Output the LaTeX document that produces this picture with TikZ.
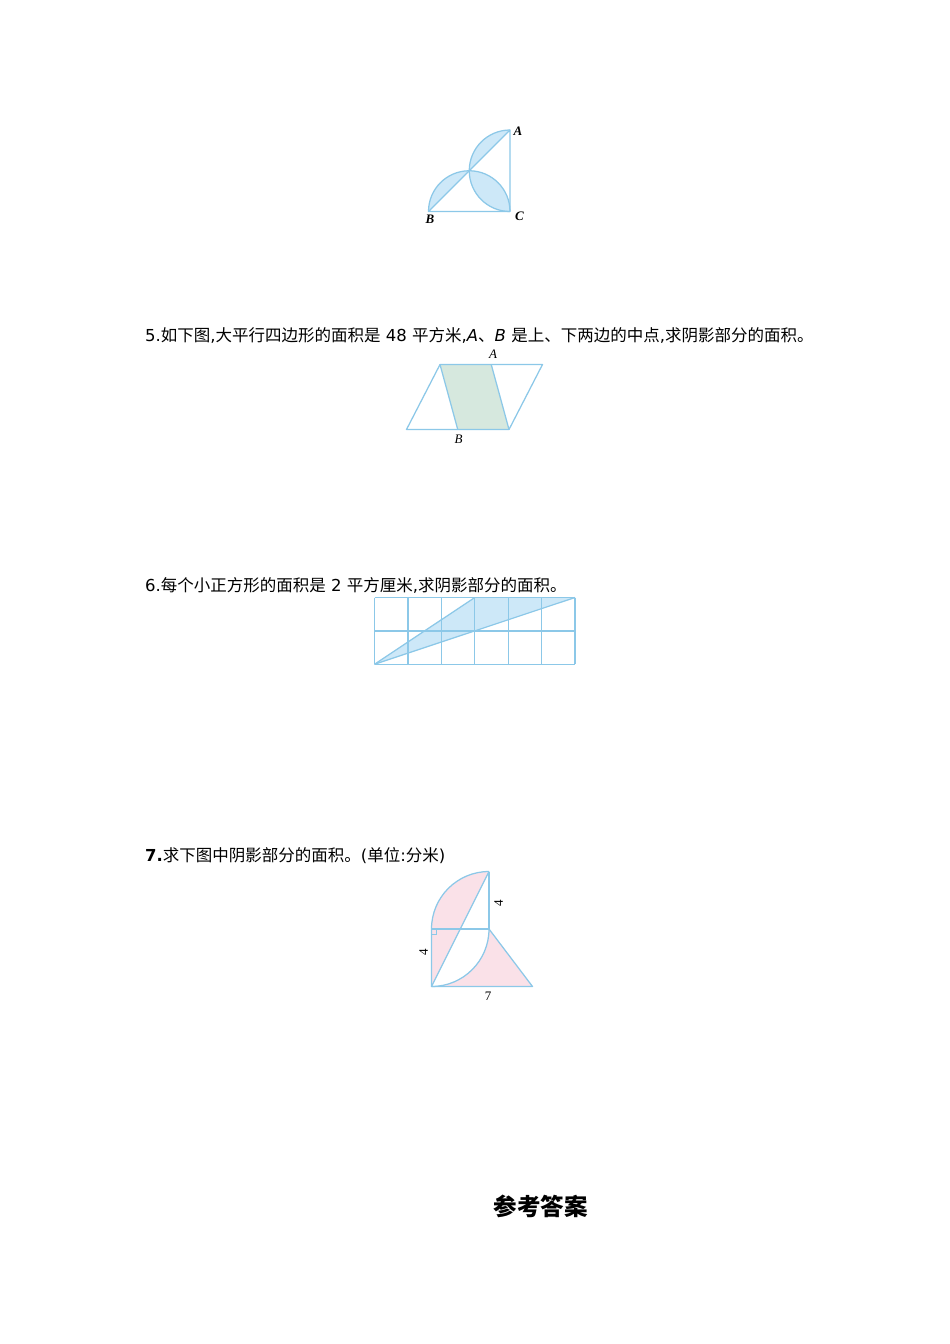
\documentclass[tikz,border=0pt]{standalone}
\usepackage{fontspec}
\setmainfont{DejaVu Sans}
\newfontfamily\cjk{Noto Sans CJK SC}
\newfontfamily\serifl{Liberation Serif}
\definecolor{ln}{HTML}{8CC8E8}
\definecolor{fblue}{HTML}{CDE8F8}
\definecolor{fgreen}{HTML}{D6E8DE}
\definecolor{fpink}{HTML}{FAE1E8}
\begin{document}
\begin{tikzpicture}[x=1pt,y=1pt,
  edge/.style={draw=ln,line width=1.25pt,line join=round},
  qtext/.style={anchor=base west,inner sep=0pt,font=\fontsize{16.5}{20}\selectfont},
  lbl/.style={inner sep=0pt,font=\serifl\fontsize{13}{15}\selectfont},
  lblb/.style={inner sep=0pt,font=\serifl\bfseries\itshape\fontsize{13}{15}\selectfont}]
\fill[white] (0,0) rectangle (950,-1344);
\useasboundingbox (0,0) rectangle (950,-1344);

% ---------- Figure 1 ----------
\coordinate (fB) at (428.5,-211.5);
\coordinate (fC) at (510,-211.5);
\coordinate (fA) at (510,-130);
\coordinate (fM) at (469.25,-170.75);
\fill[fblue] (fB) arc[start angle=180,end angle=90,radius=40.75pt] -- cycle;
\fill[fblue] (fM) arc[start angle=180,end angle=90,radius=40.75pt] -- cycle;
\fill[fblue] (fM) arc[start angle=90,end angle=0,radius=40.75pt]
   arc[start angle=270,end angle=180,radius=40.75pt] -- cycle;
\draw[edge] (fA) -- (fB) -- (fC) -- cycle;
\draw[edge] (fB) arc[start angle=180,end angle=0,radius=40.75pt];
\draw[edge] (fA) arc[start angle=90,end angle=270,radius=40.75pt];
\node[lblb] (tA1) at (518,-131) {A};
\node[lblb] (tB1) at (430,-219) {B};
\node[lblb] (tC1) at (519.5,-216) {C};

% ---------- Question 5 ----------
\node[qtext] (q5) at (145,-341) {5.{\cjk 如下图},{\cjk 大平行四边形的面积是} 48 {\cjk 平方米},\textit{A}{\cjk 、}\textit{B} {\cjk 是上、下两边的中点},{\cjk 求阴影部分的面积。}};

% ---------- Figure 2 ----------
\coordinate (pTL) at (440,-364.5);
\coordinate (pTR) at (542.5,-364.5);
\coordinate (pBL) at (406.5,-429.5);
\coordinate (pBR) at (509,-429.5);
\coordinate (pA) at (491.25,-364.5);
\coordinate (pB) at (457.75,-429.5);
\fill[fgreen] (pTL) -- (pA) -- (pBR) -- (pB) -- cycle;
\draw[edge] (pTL) -- (pTR) -- (pBR) -- (pBL) -- cycle;
\draw[edge] (pTL) -- (pB);
\draw[edge] (pA) -- (pBR);
\node[lbl,font=\serifl\itshape\fontsize{13}{15}\selectfont] (tA2) at (493,-354) {A};
\node[lbl,font=\serifl\itshape\fontsize{13}{15}\selectfont] (tB2) at (458.5,-439) {B};

% ---------- Question 6 ----------
\node[qtext] (q6) at (145,-591) {6.{\cjk 每个小正方形的面积是} 2 {\cjk 平方厘米},{\cjk 求阴影部分的面积。}};

% ---------- Figure 3 ----------
\coordinate (gBL) at (374.5,-664.3);
\coordinate (gTR) at (575,-597.5);
\coordinate (gTM) at (474.75,-597.5);
\fill[fblue] (gBL) -- (gTM) -- (gTR) -- cycle;
\foreach \i in {0,...,6} {
  \draw[edge] (374.5+\i*33.417,-597.5) -- (374.5+\i*33.417,-664.3);
}
\foreach \j in {0,1,2} {
  \draw[edge] (374.5,-597.5-\j*33.4) -- (575,-597.5-\j*33.4);
}
\draw[edge] (gBL) -- (gTM);
\draw[edge] (gBL) -- (gTR);

% ---------- Question 7 ----------
\node[qtext] (q7) at (145,-861) {\textbf{7.}{\cjk 求下图中阴影部分的面积。}({\cjk 单位}:{\cjk 分米})};

% ---------- Figure 4 ----------
\coordinate (hRT) at (489,-871.5);
\coordinate (hRM) at (489,-929);
\coordinate (hLM) at (431.5,-929);
\coordinate (hLB) at (431.5,-986.5);
\coordinate (hTB) at (532.5,-986.5);
\fill[fpink] (hRT) arc[start angle=90,end angle=180,radius=57.5pt] -- (hLB) -- cycle;
\fill[fpink] (hRM) arc[start angle=0,end angle=-90,radius=57.5pt] -- (hTB) -- cycle;
\draw[edge] (hRT) arc[start angle=90,end angle=180,radius=57.5pt];
\draw[edge] (hRM) arc[start angle=0,end angle=-90,radius=57.5pt];
\draw[edge] (hRT) -- (hRM);
\draw[edge] (hLM) -- (hRM);
\draw[edge] (hLM) -- (hLB) -- (hTB) -- (hRM);
\draw[edge] (hLB) -- (hRT);
\draw[draw=ln,line width=0.8pt] ([yshift=-5pt]hLM) -| ([xshift=5pt]hLM);
\node[lbl,rotate=90] (t4a) at (498.5,-903) {4};
\node[lbl,rotate=90] (t4b) at (423.5,-952) {4};
\node[lbl] (t7) at (488,-996) {7};

% ---------- Answer heading ----------
\node[inner sep=0pt,anchor=base,font=\cjk\bfseries\fontsize{23.5}{26}\selectfont] (ans) at (540.5,-1215) {参考答案};
\end{tikzpicture}
\end{document}
